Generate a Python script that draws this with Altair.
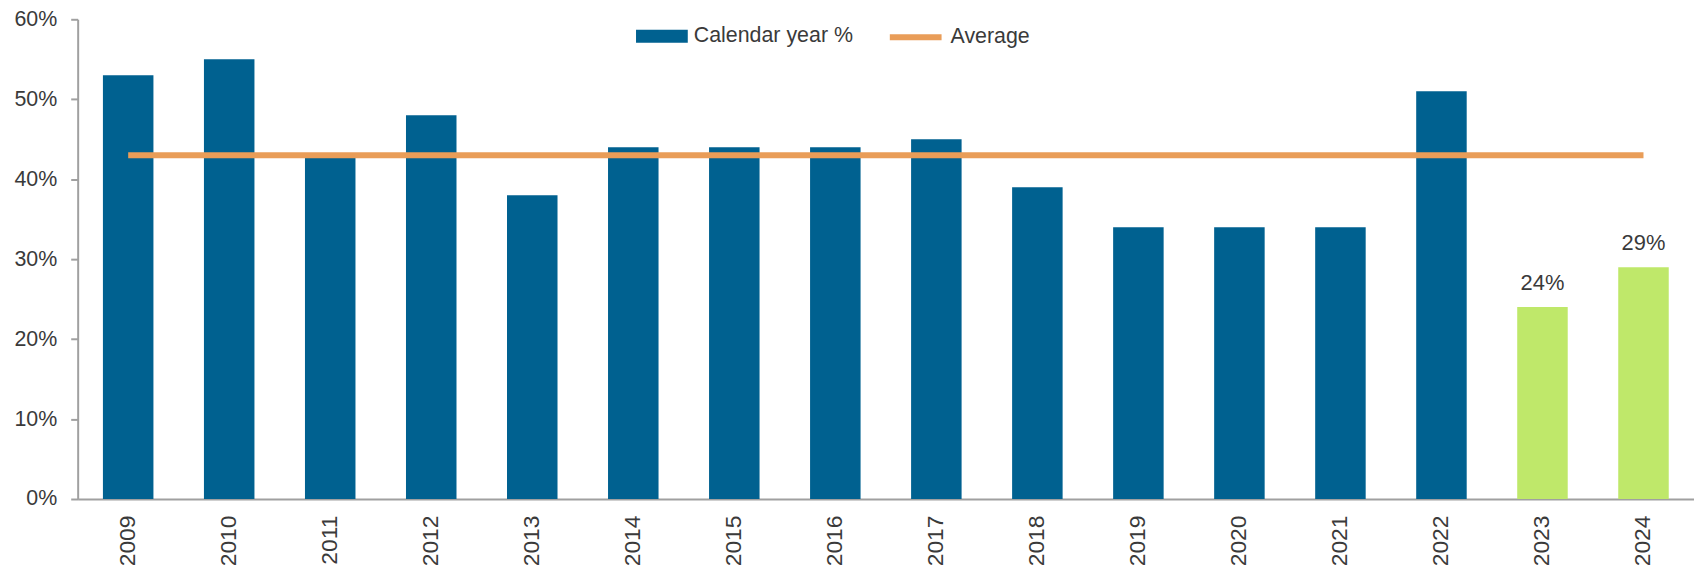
import altair as alt
import pandas as pd

years = ["2009", "2010", "2011", "2012", "2013", "2014", "2015", "2016",
         "2017", "2018", "2019", "2020", "2021", "2022", "2023", "2024"]
calendar_pct = [53, 55, 43, 48, 38, 44, 44, 44, 45, 39, 34, 34, 34, 51, 24, 29]
kinds = ["Calendar year %"] * 14 + ["Estimate", "Estimate"]
labels = [""] * 14 + ["24%", "29%"]
AVERAGE = 43
y_ticks = [0, 10, 20, 30, 40, 50, 60]

BLUE = "#006190"
GREEN = "#BFE86A"
ORANGE = "#E99D58"
AXIS = "#A0A0A0"
TEXT = "#3A3A3A"
FONT = "Liberation Sans"

df = pd.DataFrame({
    "year": years,
    "value": calendar_pct,
    "kind": kinds,
    "label": labels,
    "avg": [AVERAGE] * len(years),
    "avg_series": ["Average"] * len(years),
})

x = alt.X("year:N", sort=years, title=None,
          scale=alt.Scale(paddingInner=0.5, paddingOuter=0.25),
          axis=alt.Axis(labelAngle=-90, labelAlign="right", labelBaseline="middle",
                        labelFontSize=23, labelColor=TEXT, labelFont=FONT,
                        ticks=False, labelPadding=16, domainColor=AXIS,
                        domainWidth=2))

y_scale = alt.Scale(domain=[0, 60], nice=False)

bars = alt.Chart(df).mark_bar().encode(
    x=x,
    y=alt.Y("value:Q", scale=y_scale, title=None,
            axis=alt.Axis(values=y_ticks, labelExpr="datum.value + '%'",
                          labelFontSize=21.5, labelColor=TEXT, labelFont=FONT,
                          tickSize=7, tickColor=AXIS, tickWidth=2,
                          domainColor=AXIS, domainWidth=2, labelPadding=14,
                          grid=False)),
    fill=alt.Fill("kind:N",
                  scale=alt.Scale(domain=["Calendar year %", "Estimate"],
                                  range=[BLUE, GREEN]),
                  legend=alt.Legend(title=None, values=["Calendar year %"],
                                    orient="none", legendX=574, legendY=4,
                                    symbolType="M-2,-0.5H2V0.5H-2Z",
                                    symbolSize=676, symbolStrokeWidth=0,
                                    labelFontSize=21.5, labelColor=TEXT,
                                    labelFont=FONT, labelOffset=19,
                                    labelLimit=400, padding=0)),
)

avg_line = alt.Chart(df).mark_line(strokeWidth=6, strokeCap="butt").encode(
    x=alt.X("year:N", sort=years),
    y=alt.Y("avg:Q", scale=y_scale),
    stroke=alt.Stroke("avg_series:N",
                      scale=alt.Scale(domain=["Average"], range=[ORANGE]),
                      legend=alt.Legend(title=None, orient="none",
                                        legendX=813, legendY=-11,
                                        symbolType="stroke", symbolSize=2704,
                                        symbolStrokeWidth=6,
                                        labelFontSize=21.5, labelColor=TEXT,
                                        labelFont=FONT, labelOffset=6,
                                        labelLimit=400, padding=0)),
)

texts = alt.Chart(df).transform_filter("datum.label != ''").mark_text(
    fontSize=22, font=FONT, color=TEXT, baseline="alphabetic", dy=-17
).encode(
    x=alt.X("year:N", sort=years),
    y=alt.Y("value:Q", scale=y_scale),
    text="label:N",
)

chart = alt.layer(bars, avg_line, texts).properties(
    width=1624, height=482,
    autosize=alt.AutoSizeParams(type="none"),
    padding={"left": 70, "top": 10, "right": 0, "bottom": 72},
).configure(font=FONT).configure_view(stroke=None)

chart.save("out.html", embed_options={"renderer": "svg", "actions": False})
